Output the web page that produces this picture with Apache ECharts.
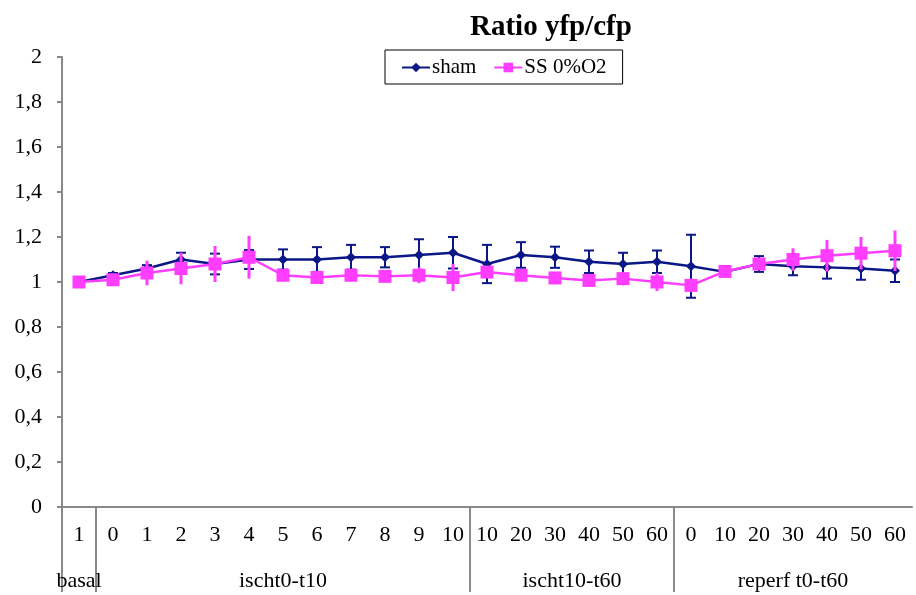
<!DOCTYPE html>
<html>
<head>
<meta charset="utf-8">
<script src="https://cdn.jsdelivr.net/npm/echarts@6/dist/echarts.min.js"></script>
<style>
html,body{margin:0;padding:0;background:#fff}
#main{width:916px;height:595px}
</style>
</head>
<body>
<div id="main"></div>
<script>
// categories (time points) and groups
var categories = ['1','0','1','2','3','4','5','6','7','8','9','10','10','20','30','40','50','60','0','10','20','30','40','50','60'];
var groupNames = ['basal','ischt0-t10','ischt10-t60','reperf t0-t60'];
var groupStarts = [0,1,12,18];
var groupCenters = [0.5,6.5,15,21.5];

// sham
var shamMean = [1.00,1.03,1.06,1.10,1.08,1.10,1.10,1.10,1.11,1.11,1.12,1.13,1.08,1.12,1.11,1.09,1.08,1.09,1.07,1.045,1.08,1.07,1.065,1.06,1.05];
var shamErr  = [0.01,0.01,0.015,0.03,0.046,0.042,0.045,0.055,0.055,0.045,0.07,0.07,0.085,0.057,0.047,0.05,0.05,0.05,0.14,0.02,0.035,0.04,0.05,0.05,0.05];
// SS 0%O2
var ssMean = [1.00,1.01,1.04,1.06,1.08,1.11,1.03,1.02,1.03,1.025,1.03,1.02,1.044,1.03,1.018,1.007,1.015,1.00,0.985,1.047,1.08,1.10,1.117,1.128,1.139];
var ssErr  = [0.01,0.015,0.055,0.07,0.08,0.095,0.01,0.01,0.02,0.025,0.035,0.06,0.02,0.015,0.01,0.01,0.03,0.04,0.03,0.02,0.02,0.05,0.07,0.072,0.09];

var navy = '#0a1786';
var pink = '#ff3dff';
var serif = 'Liberation Serif';

function errData(mean, err){
	var out = [];
	for(var i=0;i<mean.length;i++){
		out.push([i, mean[i]-err[i], mean[i]+err[i]]);
	}
	return out;
}
function errRender(color, cap, width){
	return function(params, api){
		var x = api.value(0);
		var lo = api.coord([x, api.value(1)]);
		var hi = api.coord([x, api.value(2)]);
		var st = {stroke: color, lineWidth: width};
		var ch = [{type:'line', shape:{x1:lo[0],y1:lo[1],x2:hi[0],y2:hi[1]}, style:st}];
		if(cap){
			ch.push({type:'line', shape:{x1:lo[0]-cap,y1:lo[1],x2:lo[0]+cap,y2:lo[1]}, style:st});
			ch.push({type:'line', shape:{x1:hi[0]-cap,y1:hi[1],x2:hi[0]+cap,y2:hi[1]}, style:st});
		}
		return {type:'group', children: ch};
	};
}

var chart = echarts.init(document.getElementById('main'));
var option = {
	animation: false,
	title: {
		text: 'Ratio yfp/cfp',
		left: 465, top: 8,
		textStyle: {fontFamily: serif, fontSize: 29, fontWeight: 'bold', color: '#000'}
	},
	legend: {
		left: 385, top: 50,
		data: ['sham','SS 0%O2'],
		borderColor: '#000', borderWidth: 1, backgroundColor: '#fff',
		padding: [7,16,6,16],
		itemWidth: 28, itemHeight: 12, itemGap: 17,
		textStyle: {fontFamily: serif, fontSize: 21, color: '#000', padding: [0,0,0,-3]}
	},
	grid: {left: 62, right: 4, top: 57, bottom: 88},
	xAxis: [{
		type: 'category',
		data: categories,
		boundaryGap: true,
		axisLine: {lineStyle: {color: '#888', width: 2}},
		axisTick: {interval: 0, length: 41, lineStyle: {color: '#888', width: 2}},
		axisLabel: {interval: 0, margin: 17, fontFamily: serif, fontSize: 22, color: '#000'}
	},{
		type: 'value',
		position: 'bottom',
		min: 0, max: 25,
		axisLine: {show: false},
		splitLine: {show: false},
		axisTick: {show: true, customValues: groupStarts, length: 85, lineStyle: {color: '#888', width: 2}},
		axisLabel: {
			customValues: groupCenters, margin: 63,
			fontFamily: serif, fontSize: 22, color: '#000',
			formatter: function(v){ return groupNames[groupCenters.indexOf(v)]; }
		}
	}],
	yAxis: {
		type: 'value',
		min: 0, max: 2, interval: 0.2,
		axisLine: {show: true, lineStyle: {color: '#888', width: 2}},
		axisTick: {show: true, length: 5, lineStyle: {color: '#888', width: 2}},
		splitLine: {show: false},
		axisLabel: {
			margin: 20, fontFamily: serif, fontSize: 22, color: '#000',
			formatter: function(v){ return String(Math.round(v*10)/10).replace('.', ','); }
		}
	},
	series: [{
		type: 'custom',
		name: 'shamErr',
		renderItem: errRender(navy, 5, 2),
		encode: {x: 0, y: [1,2]},
		data: errData(shamMean, shamErr),
		z: 2
	},{
		type: 'line',
		name: 'sham',
		data: shamMean,
		symbol: 'diamond', symbolSize: 10,
		lineStyle: {color: navy, width: 2.5},
		itemStyle: {color: navy},
		z: 3
	},{
		type: 'custom',
		name: 'ssErr',
		renderItem: errRender(pink, 0, 3),
		encode: {x: 0, y: [1,2]},
		data: errData(ssMean, ssErr),
		z: 4
	},{
		type: 'line',
		name: 'SS 0%O2',
		data: ssMean,
		symbol: 'rect', symbolSize: 13,
		lineStyle: {color: pink, width: 2.5},
		itemStyle: {color: pink},
		z: 5
	}]
};
chart.setOption(option);
</script>
</body>
</html>
